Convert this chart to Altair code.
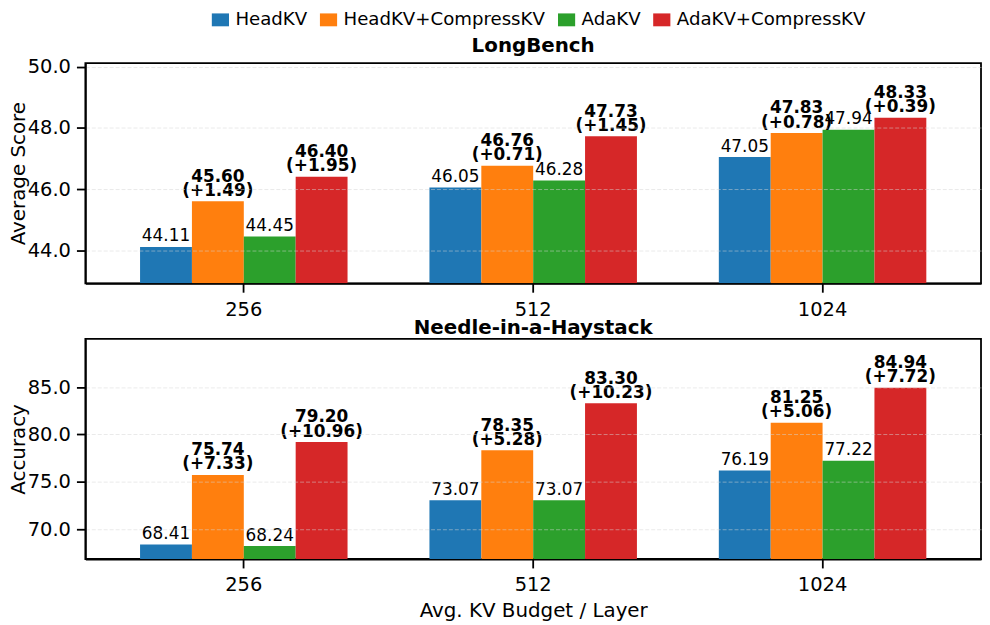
import altair as alt
import pandas as pd

budgets = ["256", "512", "1024"]
methods = ["HeadKV", "HeadKV+CompressKV", "AdaKV", "AdaKV+CompressKV"]
colors = ["#1f77b4", "#ff7f0e", "#2ca02c", "#d62728"]

# LongBench (Average Score)
lb_headkv = [44.11, 46.05, 47.05]
lb_headkv_c = [45.60, 46.76, 47.83]
lb_adakv = [44.45, 46.28, 47.94]
lb_adakv_c = [46.40, 47.73, 48.33]
lb_gain_headkv = ["+1.49", "+0.71", "+0.78"]
lb_gain_adakv = ["+1.95", "+1.45", "+0.39"]
lb_yticks = [44, 46, 48, 50]
lb_ydomain = [42.92, 50.12]

# Needle-in-a-Haystack (Accuracy)
nh_headkv = [68.41, 73.07, 76.19]
nh_headkv_c = [75.74, 78.35, 81.25]
nh_adakv = [68.24, 73.07, 77.22]
nh_adakv_c = [79.20, 83.30, 84.94]
nh_gain_headkv = ["+7.33", "+5.28", "+5.06"]
nh_gain_adakv = ["+10.96", "+10.23", "+7.72"]
nh_yticks = [70, 75, 80, 85]
nh_ydomain = [66.87, 90.09]

FONT = "DejaVu Sans"
LINE = 14.3
GAP = 5.5


def build_df(h, hc, a, ac, gh, ga):
    rows = []
    for i, b in enumerate(budgets):
        rows.append(dict(budget=b, method=methods[0], value=h[i], label=f"{h[i]:.2f}", gain="", bold=False))
        rows.append(dict(budget=b, method=methods[1], value=hc[i], label=f"{hc[i]:.2f}", gain=f"({gh[i]})", bold=True))
        rows.append(dict(budget=b, method=methods[2], value=a[i], label=f"{a[i]:.2f}", gain="", bold=False))
        rows.append(dict(budget=b, method=methods[3], value=ac[i], label=f"{ac[i]:.2f}", gain=f"({ga[i]})", bold=True))
    return pd.DataFrame(rows)


lb_df = build_df(lb_headkv, lb_headkv_c, lb_adakv, lb_adakv_c, lb_gain_headkv, lb_gain_adakv)
nh_df = build_df(nh_headkv, nh_headkv_c, nh_adakv, nh_adakv_c, nh_gain_headkv, nh_gain_adakv)


def panel(df, title, ytitle, ydomain, yticks, xtitle, legend):
    xaxis = alt.Axis(labelAngle=0, tickSize=9, labelPadding=8, titlePadding=6,
                     labelFontSize=19.6, titleFontSize=20)
    xscale = alt.Scale(paddingInner=0.283, paddingOuter=0.189)
    if xtitle:
        xenc = alt.X("budget:N", sort=budgets, title=xtitle, scale=xscale, axis=xaxis)
    else:
        xenc = alt.X("budget:N", sort=budgets, title=None, scale=xscale, axis=xaxis)
    yscale = alt.Scale(domain=ydomain, zero=False, nice=False)
    yenc = alt.Y("value:Q", title=ytitle, scale=yscale,
                 axis=alt.Axis(values=yticks, format=".1f", tickSize=9, labelPadding=6,
                               titleX=-57, labelFontSize=19.6, titleFontSize=20,
                               grid=True, gridDash=[4, 2], gridColor="#d4d4d4",
                               gridOpacity=0.5, gridWidth=1, zindex=1))
    base = alt.Chart(df).encode(
        x=xenc,
        xOffset=alt.XOffset("method:N", sort=methods,
                            scale=alt.Scale(paddingInner=0, paddingOuter=0)),
    )
    if legend:
        leg = alt.Legend(orient="none", legendX=127, legendY=-53, direction="horizontal",
                         title=None, labelFontSize=18.3, labelFont=FONT, labelColor="black",
                         labelLimit=400,
                         symbolType="M-1,-0.75H1V0.75H-1Z", symbolSize=300,
                         symbolStrokeWidth=0, symbolOpacity=1, columnPadding=12,
                         labelOffset=6)
    else:
        leg = None
    bars = base.mark_bar(clip=True).encode(
        y=yenc,
        y2=alt.datum(ydomain[0]),
        color=alt.Color("method:N", sort=methods,
                        scale=alt.Scale(domain=methods, range=colors), legend=leg),
    )
    normal = base.transform_filter("!datum.bold").mark_text(
        baseline="alphabetic", dy=-GAP, fontSize=17, font=FONT, color="black"
    ).encode(y=alt.Y("value:Q", scale=yscale), text="label:N")
    bold_val = base.transform_filter("datum.bold").mark_text(
        baseline="alphabetic", dy=-GAP - LINE, fontSize=17, font=FONT, fontWeight="bold",
        color="black"
    ).encode(y=alt.Y("value:Q", scale=yscale), text="label:N")
    bold_gain = base.transform_filter("datum.bold").mark_text(
        baseline="alphabetic", dy=-GAP, fontSize=17, font=FONT, fontWeight="bold",
        color="black"
    ).encode(y=alt.Y("value:Q", scale=yscale), text="gain:N")
    return alt.layer(bars, normal, bold_val, bold_gain).properties(
        width=903, height=222,
        title=alt.TitleParams(title, fontSize=20, fontWeight="bold", font=FONT,
                              anchor="middle", offset=1, color="black", frame="group"),
    )


top = panel(lb_df, "LongBench", "Average Score", lb_ydomain, lb_yticks, None, True)
bottom = panel(nh_df, "Needle-in-a-Haystack", "Accuracy", nh_ydomain, nh_yticks,
               "Avg. KV Budget / Layer", False)

chart = alt.vconcat(top, bottom, spacing=56, bounds="flush").properties(
    padding={"left": 0, "top": 0, "right": 0, "bottom": 0}
).configure(font=FONT).configure_axis(
    labelFont=FONT, titleFont=FONT, labelColor="black", titleColor="black",
    titleFontWeight="normal", domainColor="black", domainWidth=1.8,
    tickColor="black", tickWidth=1.8,
).configure_view(stroke="black", strokeWidth=1.8)

chart.save("out.html", embed_options={"renderer": "svg", "actions": False})
